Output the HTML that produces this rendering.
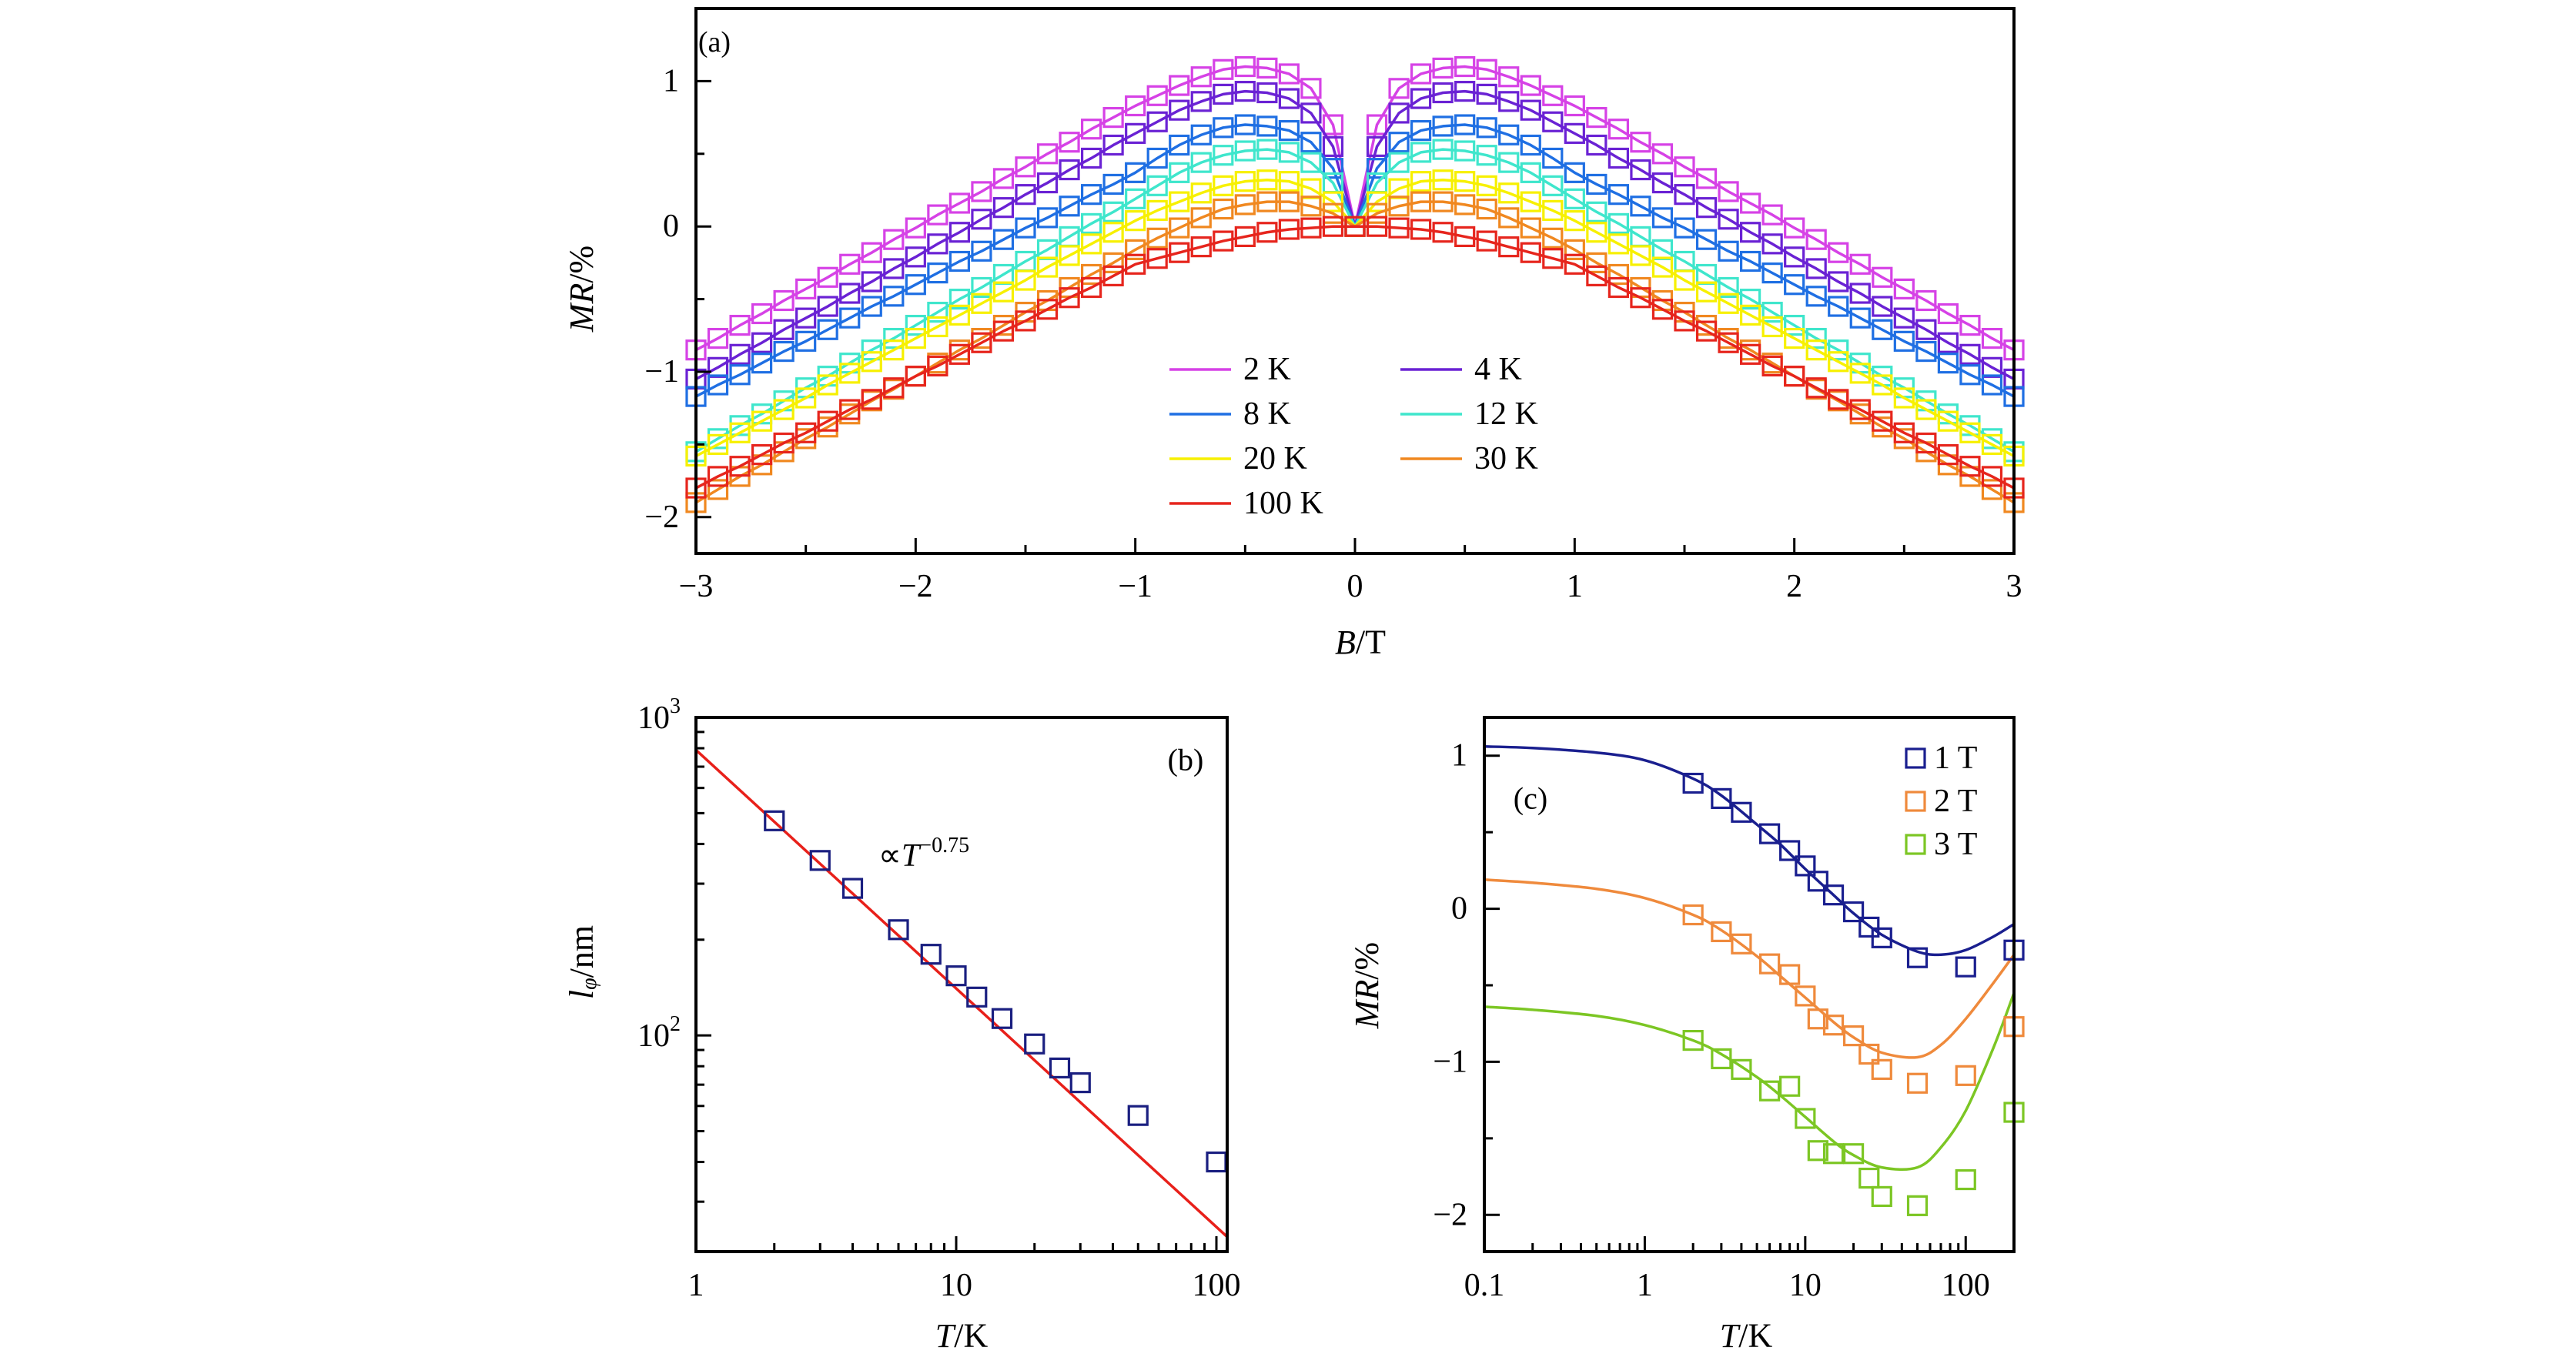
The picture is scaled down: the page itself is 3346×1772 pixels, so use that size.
<!DOCTYPE html>
<html><head><meta charset="utf-8">
<style>
html,body{margin:0;padding:0;background:#fff;}
svg{display:block;font-family:"Liberation Serif",serif;}
</style></head>
<body>
<svg id="fig" width="3346" height="1772" viewBox="0 0 3346 1772" xmlns="http://www.w3.org/2000/svg"></svg>
<script>
// ---------- Panel (a) data ----------
const aFields = [0,0.1,0.2,0.3,0.4,0.5,0.6,0.7,0.8,0.9,1.0,1.1,1.2,1.3,1.4,1.5,1.6,1.7,1.8,1.9,2.0,2.1,2.2,2.3,2.4,2.5,2.6,2.7,2.8,2.9,3.0];
const aLabels = ["2 K","4 K","8 K","12 K","20 K","30 K","100 K"];
const aMR2K  = [0,0.70,0.95,1.05,1.09,1.10,1.08,1.03,0.97,0.90,0.83,0.75,0.67,0.58,0.50,0.41,0.33,0.24,0.16,0.08,-0.01,-0.09,-0.18,-0.26,-0.35,-0.43,-0.51,-0.60,-0.68,-0.77,-0.85];
const aMR4K  = [0,0.55,0.78,0.88,0.92,0.93,0.91,0.86,0.80,0.72,0.64,0.56,0.47,0.39,0.30,0.22,0.13,0.05,-0.04,-0.12,-0.21,-0.29,-0.38,-0.46,-0.55,-0.63,-0.71,-0.80,-0.88,-0.97,-1.05];
const aMR8K  = [0,0.40,0.58,0.66,0.69,0.70,0.68,0.63,0.56,0.47,0.37,0.29,0.22,0.14,0.06,-0.01,-0.09,-0.17,-0.24,-0.32,-0.40,-0.48,-0.55,-0.63,-0.71,-0.79,-0.86,-0.94,-1.02,-1.09,-1.17];
const aMR12K = [0,0.30,0.44,0.51,0.53,0.52,0.49,0.44,0.37,0.28,0.19,0.10,0.02,-0.07,-0.16,-0.24,-0.33,-0.42,-0.50,-0.59,-0.68,-0.77,-0.85,-0.94,-1.03,-1.11,-1.20,-1.29,-1.37,-1.46,-1.55];
const aMR20K = [0,0.17,0.26,0.31,0.32,0.31,0.28,0.23,0.17,0.11,0.04,-0.04,-0.12,-0.20,-0.28,-0.37,-0.45,-0.53,-0.61,-0.69,-0.77,-0.85,-0.93,-1.01,-1.09,-1.18,-1.26,-1.34,-1.42,-1.50,-1.58];
const aMR30K = [0,0.09,0.14,0.17,0.17,0.15,0.12,0.06,-0.01,-0.08,-0.16,-0.25,-0.33,-0.42,-0.51,-0.59,-0.68,-0.77,-0.85,-0.94,-1.03,-1.12,-1.20,-1.29,-1.38,-1.46,-1.55,-1.64,-1.72,-1.81,-1.90];
const aMR100K= [0,0.0,-0.01,-0.02,-0.04,-0.07,-0.10,-0.14,-0.18,-0.22,-0.26,-0.34,-0.42,-0.49,-0.57,-0.65,-0.72,-0.80,-0.88,-0.96,-1.03,-1.11,-1.19,-1.26,-1.34,-1.42,-1.49,-1.57,-1.65,-1.72,-1.80];
const aXTicks = [-3,-2,-1,0,1,2,3];
const aYTicks = [-2,-1,0,1];

// ---------- Panel (b) data ----------
const bTemps = [2,3,4,6,8,10,12,15,20,25,30,50,100];
const bLphi = [473,355,290,215,180,154,132,113,94,79,71,56,40];
const bFitPrefactor = [790];
const bFitExponent = [-0.75];
const bXTicks = [1,10,100];

// ---------- Panel (c) data ----------
const cTemps = [2,3,4,6,8,10,12,15,20,25,30,50,100,200];
const cMR1T = [0.82,0.72,0.63,0.49,0.38,0.28,0.18,0.09,-0.02,-0.12,-0.19,-0.32,-0.38,-0.27];
const cMR2T = [-0.04,-0.15,-0.23,-0.36,-0.43,-0.57,-0.72,-0.76,-0.83,-0.95,-1.05,-1.14,-1.09,-0.77];
const cMR3T = [-0.86,-0.98,-1.05,-1.19,-1.16,-1.37,-1.58,-1.60,-1.60,-1.76,-1.88,-1.94,-1.77,-1.33];
const cFitT = [0.1,0.2,0.5,1,2,3,5,7,10,15,20,30,50,70,100,150,200];
const cFit1T = [1.06,1.05,1.02,0.97,0.85,0.74,0.55,0.42,0.26,0.09,-0.03,-0.17,-0.28,-0.30,-0.27,-0.18,-0.10];
const cFit2T = [0.19,0.17,0.13,0.07,-0.04,-0.14,-0.31,-0.44,-0.58,-0.74,-0.84,-0.94,-0.97,-0.89,-0.72,-0.48,-0.30];
const cFit3T = [-0.64,-0.66,-0.70,-0.76,-0.86,-0.95,-1.10,-1.22,-1.36,-1.52,-1.61,-1.69,-1.69,-1.56,-1.32,-0.90,-0.55];
const cXTicks = [0.1,1,10,100];
const cYTicks = [-2,-1,0,1];

const NS="http://www.w3.org/2000/svg";
const svg=document.getElementById('fig');
function mk(tag,attrs,parent){const e=document.createElementNS(NS,tag);for(const k in attrs)e.setAttribute(k,attrs[k]);(parent||svg).appendChild(e);return e;}
function txt(x,y,s,size,anchor,parent){const e=mk('text',{x:x,y:y,'font-size':size,'text-anchor':anchor||'middle','dominant-baseline':'central',fill:'#000'},parent);e.textContent=s;return e;}
function sq(x,y,c,parent){const e=mk('rect',{x:x-12,y:y-12,width:24,height:24,fill:'none',stroke:c,'stroke-width':3.2},parent);return e;}
function smoothPath(P){let d='M'+P[0][0]+','+P[0][1];for(let i=0;i<P.length-1;i++){const p0=P[Math.max(0,i-1)],p1=P[i],p2=P[i+1],p3=P[Math.min(P.length-1,i+2)];
  const c1=[p1[0]+(p2[0]-p0[0])/6,p1[1]+(p2[1]-p0[1])/6],c2=[p2[0]-(p3[0]-p1[0])/6,p2[1]-(p3[1]-p1[1])/6];
  d+=' C'+c1[0]+','+c1[1]+' '+c2[0]+','+c2[1]+' '+p2[0]+','+p2[1];}return d;}

// ---------- Panel (a) ----------
const A={x0:904,x1:2616,y0:11,y1:719,bmin:-3,bmax:3,mmin:-2.25,mmax:1.5};
const ax=b=>A.x0+(b-A.bmin)/(A.bmax-A.bmin)*(A.x1-A.x0);
const ay=v=>A.y1-(v-A.mmin)/(A.mmax-A.mmin)*(A.y1-A.y0);
const gA=mk('g',{});


const aSeries=[aMR2K,aMR4K,aMR8K,aMR12K,aMR20K,aMR30K,aMR100K];
const aColors=['#d642e6','#6a22d4','#1f6fe3','#3fe6cc','#f7f000','#f08820','#e6251d'];
const aNames=['2k','4k','8k','12k','20k','30k','100k'];
aSeries.forEach((s,i)=>{
  const pts=[];
  for(let j=aFields.length-1;j>=1;j--)pts.push(ax(-aFields[j])+','+ay(s[j]));
  for(let j=0;j<aFields.length;j++)pts.push(ax(aFields[j])+','+ay(s[j]));
  const l=mk('polyline',{points:pts.join(' '),fill:'none',stroke:aColors[i],'stroke-width':3.5,'stroke-linejoin':'round'},gA);
  
  
  for(let j=0;j<aFields.length;j++){
    const r1=sq(ax(aFields[j]),ay(s[j]),aColors[i],gA);
    
    
    if(j>0){
      const r2=sq(ax(-aFields[j]),ay(s[j]),aColors[i],gA);
      
      
    }
  }
});
const fa=mk('rect',{x:A.x0,y:A.y0,width:A.x1-A.x0,height:A.y1-A.y0,fill:'none',stroke:'#000','stroke-width':4},gA);


aXTicks.forEach(t=>{
  const tk=mk('line',{x1:ax(t),x2:ax(t),y1:A.y1,y2:A.y1-20,stroke:'#000','stroke-width':3},gA);
  
  
  const lb=txt(ax(t),762,(t<0?'\u2212':'')+Math.abs(t),42,'middle',gA);
  
  
  if(t<3){const m=mk('line',{x1:ax(t+0.5),x2:ax(t+0.5),y1:A.y1,y2:A.y1-11,stroke:'#000','stroke-width':3},gA);
  
  }
});
aYTicks.forEach(t=>{
  const tk=mk('line',{x1:A.x0,x2:A.x0+20,y1:ay(t),y2:ay(t),stroke:'#000','stroke-width':3},gA);
  
  
  const lb=txt(A.x0-22,ay(t),(t<0?'\u2212':'')+Math.abs(t),42,'end',gA);
  
  
  const m=mk('line',{x1:A.x0,x2:A.x0+11,y1:ay(t+0.5),y2:ay(t+0.5),stroke:'#000','stroke-width':3},gA);
  
  
});
const la=txt(928,55,'(a)',38,'middle',gA);


const xta=mk('text',{x:1767,y:834,'font-size':44,'text-anchor':'middle','dominant-baseline':'central'},gA);
xta.innerHTML='<tspan font-style="italic">B</tspan>/T';


const yta=mk('text',{x:0,y:0,'font-size':44,'text-anchor':'middle','dominant-baseline':'central',transform:'translate(755,375) rotate(-90)'},gA);
yta.innerHTML='<tspan font-style="italic">MR</tspan>/%';


// legend
const legPos=[[1519,480],[1819,480],[1519,538],[1819,538],[1519,596],[1819,596],[1519,654]];
aLabels.forEach((s,i)=>{
  const [lx,ly]=legPos[i];
  const ln=mk('line',{x1:lx,x2:lx+80,y1:ly,y2:ly,stroke:aColors[i],'stroke-width':3.5},gA);
  
  
  const t=txt(lx+96,ly,s,42,'start',gA);
  
  
});

// ---------- Panel (b) ----------
const B={x0:904,x1:1594,y0:932,y1:1626,lx0:0,lx1:Math.log10(110),ly0:Math.log10(20.9),ly1:3};
const bx=t=>B.x0+(Math.log10(t)-B.lx0)/(B.lx1-B.lx0)*(B.x1-B.x0);
const by=v=>B.y1-(Math.log10(v)-B.ly0)/(B.ly1-B.ly0)*(B.y1-B.y0);
const gB=mk('g',{});


const fitB=mk('line',{x1:bx(1),y1:by(bFitPrefactor[0]),x2:bx(110),y2:by(bFitPrefactor[0]*Math.pow(110,bFitExponent[0])),stroke:'#e8201a','stroke-width':3.5},gB);


bTemps.forEach((t,i)=>{
  const r=sq(bx(t),by(bLphi[i]),'#1a1f80',gB);
  
  
});
const fb=mk('rect',{x:B.x0,y:B.y0,width:B.x1-B.x0,height:B.y1-B.y0,fill:'none',stroke:'#000','stroke-width':4},gB);


for(let d=1;d<=100;d*=10){for(let k=1;k<10;k++){const v=d*k;if(v>110)break;
  const tk=mk('line',{x1:bx(v),x2:bx(v),y1:B.y1,y2:B.y1-(k==1?20:11),stroke:'#000','stroke-width':3},gB);
  
  }}
bXTicks.forEach(t=>{const lb=txt(bx(t),1670,String(t),42,'middle',gB);
  
  });
for(let d=10;d<=1000;d*=10){for(let k=1;k<10;k++){const v=d*k;if(v<20.9||v>1000)continue;
  const tk=mk('line',{x1:B.x0,x2:B.x0+(k==1?20:11),y1:by(v),y2:by(v),stroke:'#000','stroke-width':3},gB);
  
  }}
[[100,'2'],[1000,'3']].forEach(([v,e])=>{
  const lb=mk('text',{x:B.x0-20,y:by(v)+14,'font-size':42,'text-anchor':'end'},gB);
  lb.innerHTML='10<tspan font-size="28" dy="-20">'+e+'</tspan>';
  
  
});
const lbB=txt(1540,987,'(b)',40,'middle',gB);


const ann=mk('text',{x:1200,y:1125,'font-size':42,'text-anchor':'middle'},gB);
ann.innerHTML='\u221D<tspan font-style="italic">T</tspan><tspan font-size="28" dy="-18">\u22120.75</tspan>';


const xtb=mk('text',{x:1249,y:1735,'font-size':44,'text-anchor':'middle','dominant-baseline':'central'},gB);
xtb.innerHTML='<tspan font-style="italic">T</tspan>/K';


const ytb=mk('text',{x:0,y:0,'font-size':44,'text-anchor':'middle','dominant-baseline':'central',transform:'translate(755,1250) rotate(-90)'},gB);
ytb.innerHTML='<tspan font-style="italic">l</tspan><tspan font-size="28" dy="10" font-style="italic">\u03C6</tspan><tspan dy="-10">/nm</tspan>';



// ---------- Panel (c) ----------
const C={x0:1928,x1:2616,y0:932,y1:1626,lx0:-1,lx1:Math.log10(200),m0:-2.24,m1:1.25};
const cx=t=>C.x0+(Math.log10(t)-C.lx0)/(C.lx1-C.lx0)*(C.x1-C.x0);
const cy=v=>C.y1-(v-C.m0)/(C.m1-C.m0)*(C.y1-C.y0);
const gC=mk('g',{});


const cData=[cMR1T,cMR2T,cMR3T], cFits=[cFit1T,cFit2T,cFit3T];
const cColors=['#1a1f8f','#ef8a3c','#7cc624'], cNames=['1t','2t','3t'], cLabels=['1 T','2 T','3 T'];
cFits.forEach((f,i)=>{
  const P=cFitT.map((t,j)=>[cx(t),cy(f[j])]);
  const l=mk('path',{d:smoothPath(P),fill:'none',stroke:cColors[i],'stroke-width':3.5},gC);
  
  
});
cData.forEach((d,i)=>{cTemps.forEach((t,j)=>{
  const r=sq(cx(t),cy(d[j]),cColors[i],gC);
  
  
});});
const fc=mk('rect',{x:C.x0,y:C.y0,width:C.x1-C.x0,height:C.y1-C.y0,fill:'none',stroke:'#000','stroke-width':4},gC);


for(let d=0.1;d<=100;d*=10){for(let k=1;k<10;k++){const v=d*k;if(v>200)break;
  const tk=mk('line',{x1:cx(v),x2:cx(v),y1:C.y1,y2:C.y1-(k==1?20:11),stroke:'#000','stroke-width':3},gC);
  
  }}
cXTicks.forEach(t=>{const lb=txt(cx(t),1670,String(t),42,'middle',gC);
  
  });
cYTicks.forEach(t=>{
  const tk=mk('line',{x1:C.x0,x2:C.x0+20,y1:cy(t),y2:cy(t),stroke:'#000','stroke-width':3},gC);
  
  
  const lb=txt(C.x0-22,cy(t),(t<0?'\u2212':'')+Math.abs(t),42,'end',gC);
  
  
});
[-1.5,-0.5,0.5].forEach(t=>{
  const m=mk('line',{x1:C.x0,x2:C.x0+11,y1:cy(t),y2:cy(t),stroke:'#000','stroke-width':3},gC);
  
  
});
cLabels.forEach((s,i)=>{
  const y=985+i*56;
  const r=sq(2488,y,cColors[i],gC);
  
  
  const t=txt(2512,y,s,42,'start',gC);
  
  
});
const lbC=txt(1988,1037,'(c)',40,'middle',gC);


const xtc=mk('text',{x:2268,y:1735,'font-size':44,'text-anchor':'middle','dominant-baseline':'central'},gC);
xtc.innerHTML='<tspan font-style="italic">T</tspan>/K';


const ytc=mk('text',{x:0,y:0,'font-size':44,'text-anchor':'middle','dominant-baseline':'central',transform:'translate(1775,1280) rotate(-90)'},gC);
ytc.innerHTML='<tspan font-style="italic">MR</tspan>/%';


</script>
</body></html>
